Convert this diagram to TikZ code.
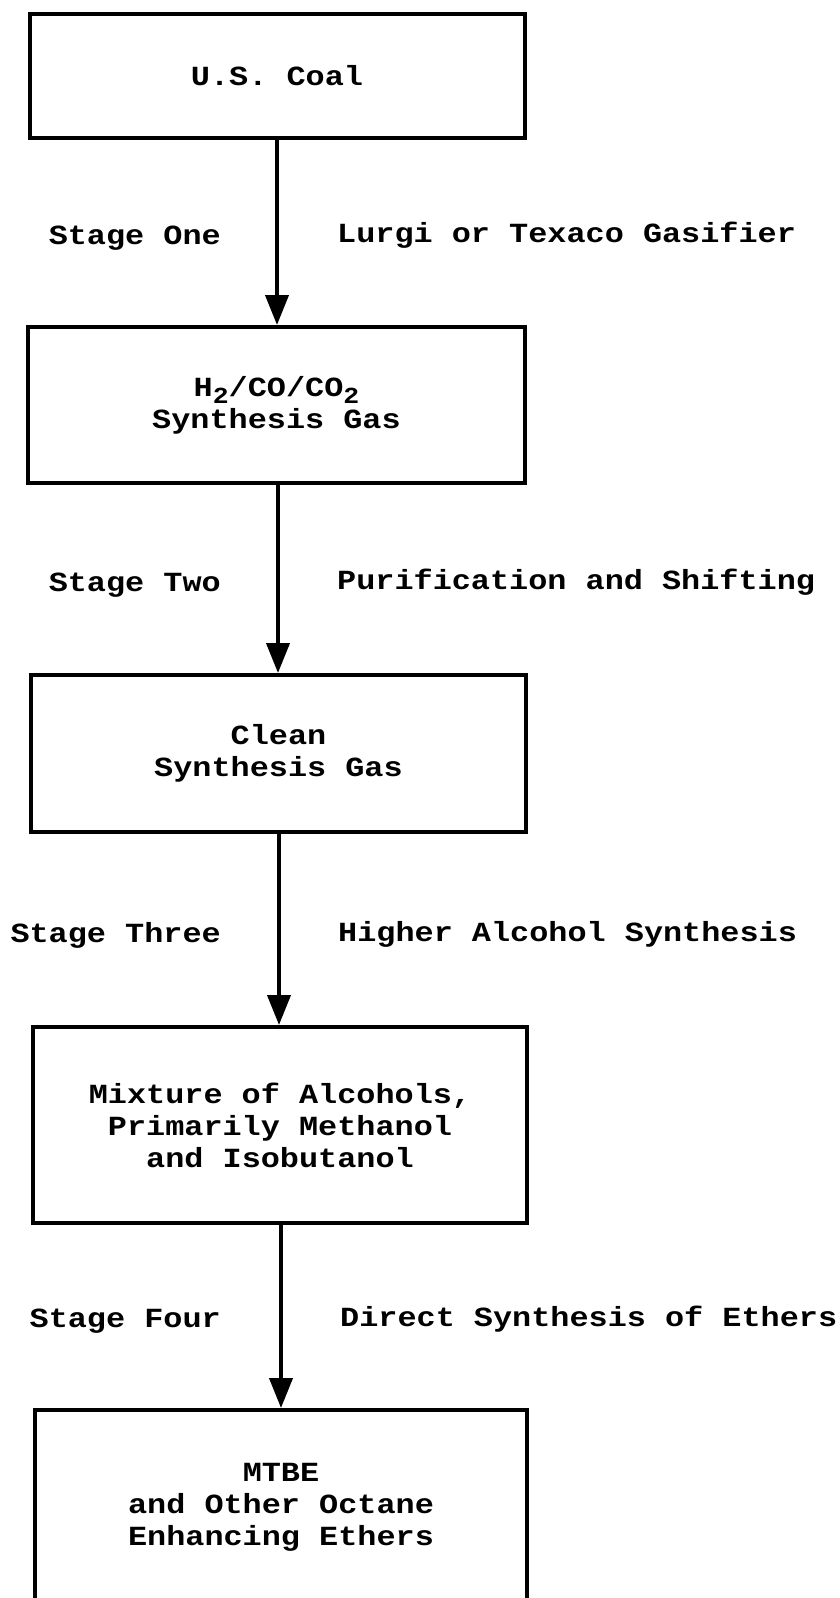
\documentclass[tikz,border=0pt]{standalone}
\usepackage{fontspec}
\setmonofont[FakeStretch=1.15]{Liberation Mono}
\usetikzlibrary{arrows.meta}
\newcommand\mainfnt{\ttfamily\bfseries\fontsize{27.7}{32}\selectfont}
\newcommand\subtwo{\raisebox{-7pt}{\fontsize{23}{23}\selectfont 2}}
\tikzset{
  box/.style={draw, line width=4pt, inner sep=0pt, align=center, font=\mainfnt},
  lbl/.style={font=\mainfnt, inner sep=0pt},
  flow/.style={line width=4pt, -{Triangle[length=30pt,width=23pt]}}
}
\begin{document}
\begin{tikzpicture}[x=1pt,y=-1pt]
\useasboundingbox (0,0) rectangle (840,1598);
\clip (0,0) rectangle (840,1598);
\node[box, minimum width=495pt, minimum height=124pt] (b1) at (277,76) {U.S. Coal};
\node[box, minimum width=497pt, minimum height=156pt] (b2) at (276.5,405)
  {\fontsize{27.7}{28}\selectfont\rule{0pt}{14pt}H\subtwo/CO/CO\subtwo\\Synthesis Gas};
\node[box, minimum width=495pt, minimum height=157pt] (b3) at (278.5,753.5) {Clean\\Synthesis Gas};
\node[box, minimum width=494pt, minimum height=196pt] (b4) at (280,1125)
  {Mixture of Alcohols,\\Primarily Methanol\\and Isobutanol};
\node[box, minimum width=492pt, minimum height=194pt] (b5) at (281,1507)
  {MTBE\\and Other Octane\\Enhancing Ethers};
\node[lbl, anchor=base east] (s1) at (221,244) {Stage One};
\node[lbl, anchor=base west] (r1) at (337,242) {Lurgi or Texaco Gasifier};
\node[lbl, anchor=base east] (s2) at (221,591) {Stage Two};
\node[lbl, anchor=base west] (r2) at (337,589) {Purification and Shifting};
\node[lbl, anchor=base east] (s3) at (221,942) {Stage Three};
\node[lbl, anchor=base west] (r3) at (338,941) {Higher Alcohol Synthesis};
\node[lbl, anchor=base east] (s4) at (221,1327) {Stage Four};
\node[lbl, anchor=base west] (r4) at (340,1326) {Direct Synthesis of Ethers};
\coordinate (a1) at (277,0);
\coordinate (a2) at (278,0);
\coordinate (a3) at (279,0);
\coordinate (a4) at (281,0);
\draw[flow] (b1.south -| a1) -- (b2.north -| a1);
\draw[flow] (b2.south -| a2) -- (b3.north -| a2);
\draw[flow] (b3.south -| a3) -- (b4.north -| a3);
\draw[flow] (b4.south -| a4) -- (b5.north -| a4);
\end{tikzpicture}
\end{document}
